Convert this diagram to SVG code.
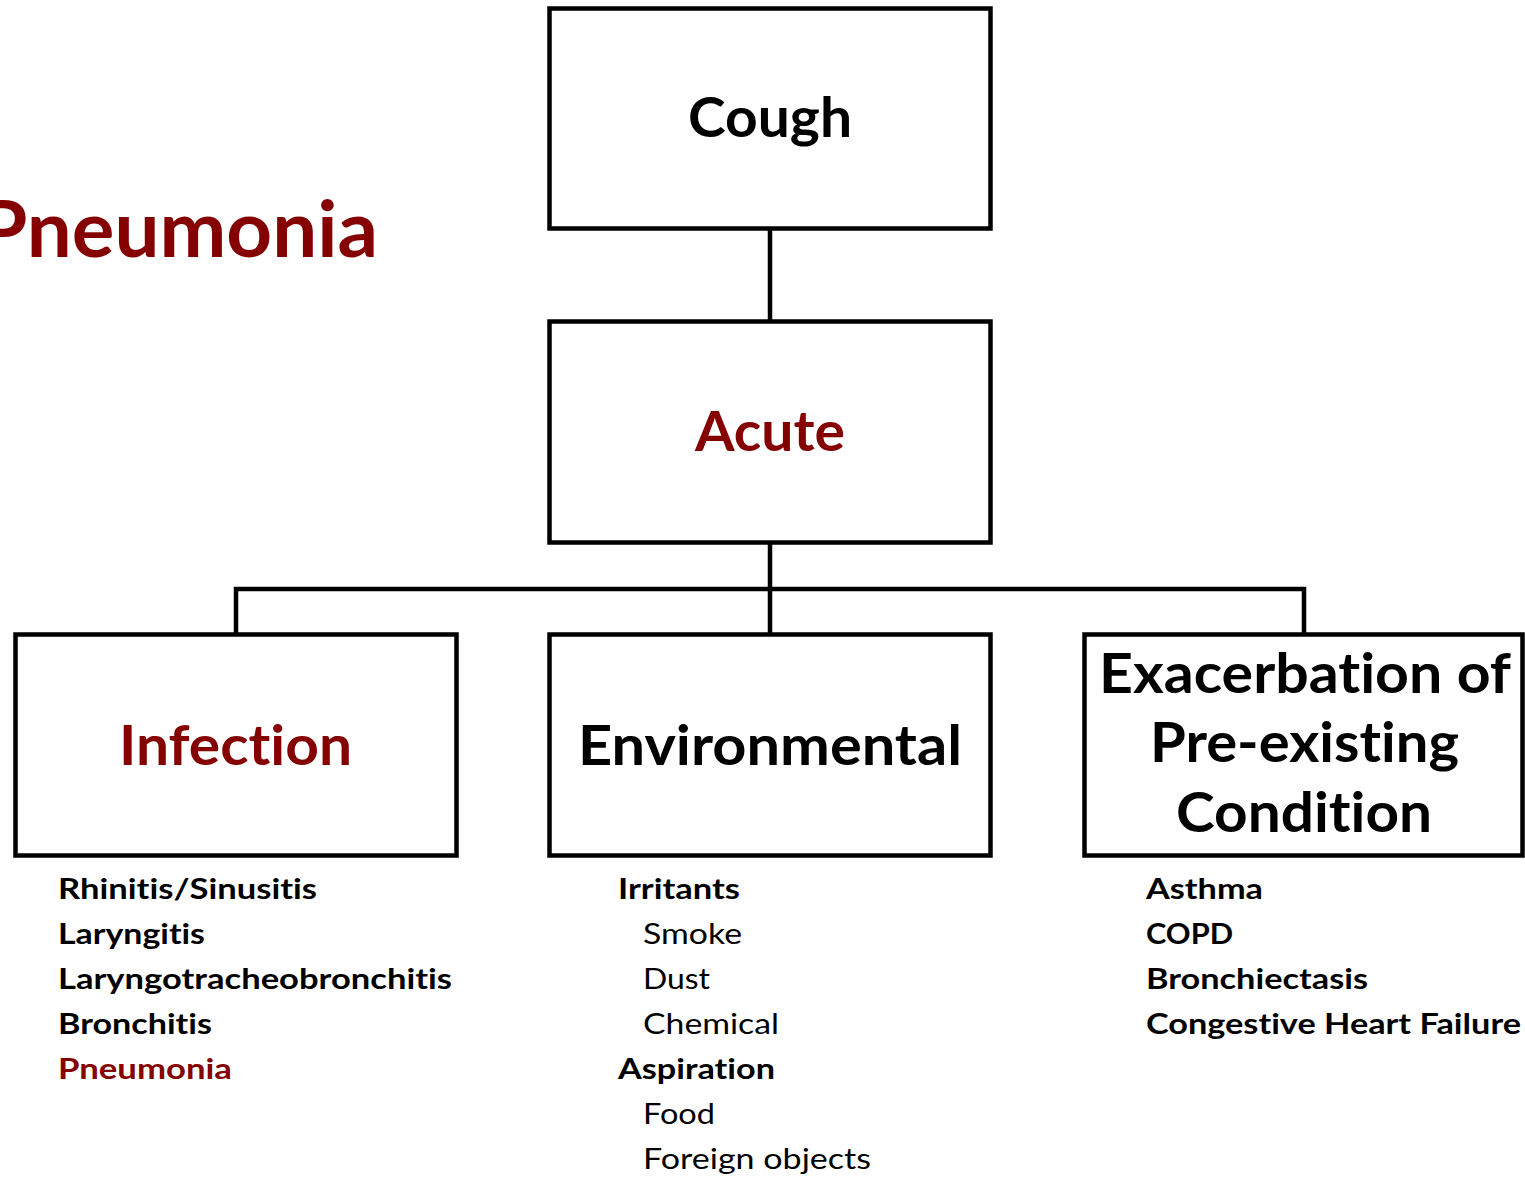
<svg xmlns="http://www.w3.org/2000/svg" width="1525" height="1177" viewBox="0 0 1525 1177">
<style>
.box{fill:#fff;stroke:#000;stroke-width:4.5}
.con{fill:none;stroke:#000;stroke-width:4.5}
.t{font-family:Lato,"Open Sans","Liberation Sans",sans-serif;font-weight:700;font-variant-ligatures:none;font-feature-settings:"liga" 0,"dlig" 0}
.big{font-size:56px}
.lst{font-size:28px}
.reg{font-weight:400}
.red{fill:#850000}
.blk{fill:#000}
</style>
<rect width="1525" height="1177" fill="#fff"/>
<text class="t red" x="-22" y="257" font-size="78" textLength="400" lengthAdjust="spacingAndGlyphs">Pneumonia</text>
<g id="connectors">
<path class="con" d="M770 228 V322"/>
<path class="con" d="M770 542 V635"/>
<path class="con" d="M236 635 V589 H1304 V635"/>
</g>
<g id="cough">
<rect class="box" x="549.5" y="8.5" width="441" height="220"/>
<text class="t big blk" x="688" y="137" textLength="164" lengthAdjust="spacingAndGlyphs">Cough</text>
</g>
<g id="acute">
<rect class="box" x="549.5" y="321.5" width="441" height="221"/>
<text class="t big red" x="695" y="451" textLength="150" lengthAdjust="spacingAndGlyphs">Acute</text>
</g>
<g id="infection">
<rect class="box" x="15.5" y="634.5" width="441" height="221"/>
<text class="t big red" x="119" y="765" textLength="233" lengthAdjust="spacingAndGlyphs">Infection</text>
</g>
<g id="environmental">
<rect class="box" x="549.5" y="634.5" width="441" height="221"/>
<text class="t big blk" x="578" y="765" textLength="384" lengthAdjust="spacingAndGlyphs">Environmental</text>
</g>
<g id="exacerbation">
<rect class="box" x="1084.5" y="634.5" width="438" height="221"/>
<text class="t big blk" x="1099" y="693" textLength="412" lengthAdjust="spacingAndGlyphs">Exacerbation of</text>
<text class="t big blk" x="1150" y="762" textLength="309" lengthAdjust="spacingAndGlyphs">Pre-existing</text>
<text class="t big blk" x="1176" y="832" textLength="256" lengthAdjust="spacingAndGlyphs">Condition</text>
</g>
<g id="infection-list">
<text class="t lst blk" x="58" y="899" textLength="259" lengthAdjust="spacingAndGlyphs">Rhinitis/Sinusitis</text>
<text class="t lst blk" x="58" y="944" textLength="147" lengthAdjust="spacingAndGlyphs">Laryngitis</text>
<text class="t lst blk" x="58" y="989" textLength="394" lengthAdjust="spacingAndGlyphs">Laryngotracheobronchitis</text>
<text class="t lst blk" x="58" y="1034" textLength="154" lengthAdjust="spacingAndGlyphs">Bronchitis</text>
<text class="t lst red" x="58" y="1079" textLength="174" lengthAdjust="spacingAndGlyphs">Pneumonia</text>
</g>
<g id="environmental-list">
<text class="t lst blk" x="618" y="899" textLength="122" lengthAdjust="spacingAndGlyphs">Irritants</text>
<text class="t lst blk reg" x="643" y="944" textLength="99" lengthAdjust="spacingAndGlyphs">Smoke</text>
<text class="t lst blk reg" x="643" y="989" textLength="67" lengthAdjust="spacingAndGlyphs">Dust</text>
<text class="t lst blk reg" x="643" y="1034" textLength="136" lengthAdjust="spacingAndGlyphs">Chemical</text>
<text class="t lst blk" x="618" y="1079" textLength="157" lengthAdjust="spacingAndGlyphs">Aspiration</text>
<text class="t lst blk reg" x="643" y="1124" textLength="72" lengthAdjust="spacingAndGlyphs">Food</text>
<text class="t lst blk reg" x="643" y="1169" textLength="228" lengthAdjust="spacingAndGlyphs">Foreign objects</text>
</g>
<g id="exacerbation-list">
<text class="t lst blk" x="1146" y="899" textLength="117" lengthAdjust="spacingAndGlyphs">Asthma</text>
<text class="t lst blk" x="1146" y="944" textLength="87" lengthAdjust="spacingAndGlyphs">COPD</text>
<text class="t lst blk" x="1146" y="989" textLength="222" lengthAdjust="spacingAndGlyphs">Bronchiectasis</text>
<text class="t lst blk" x="1146" y="1034" textLength="375" lengthAdjust="spacingAndGlyphs">Congestive Heart Failure</text>
</g>
</svg>
